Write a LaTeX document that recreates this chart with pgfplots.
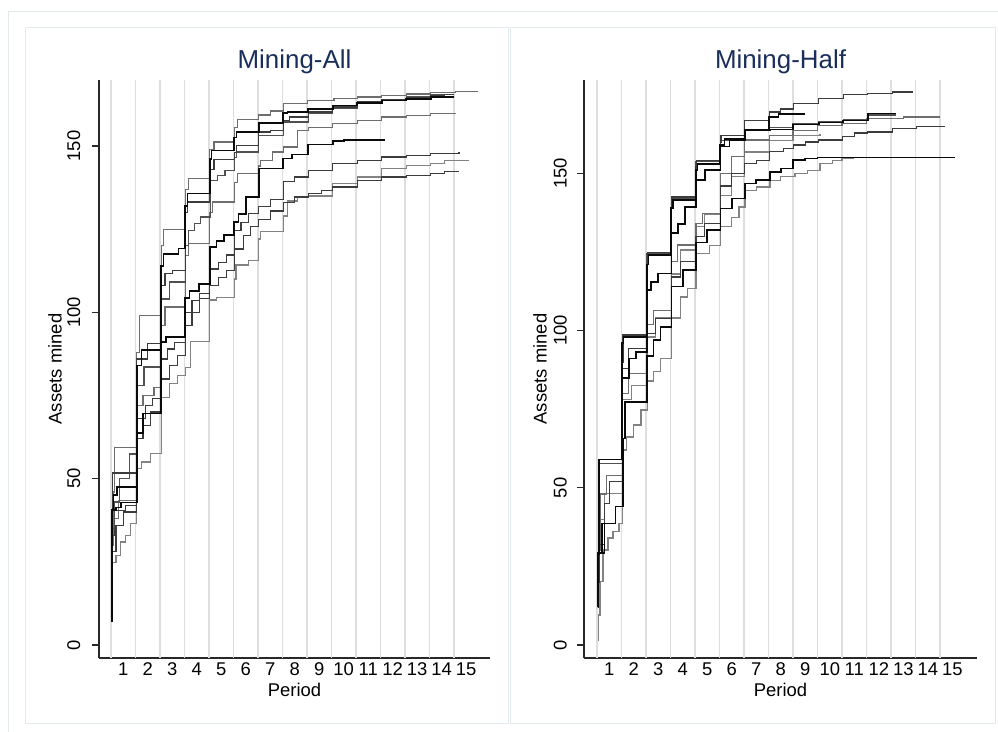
\documentclass[border=0pt]{standalone}
\usepackage{fontspec}
\setmainfont{Liberation Sans}
\usepackage{pgfplots}
\pgfplotsset{compat=1.18}
\definecolor{gridc}{RGB}{222,222,222}
\definecolor{framec}{RGB}{226,234,236}
\definecolor{titlec}{RGB}{26,46,90}
\definecolor{cK}{RGB}{10,10,10}
\definecolor{cD}{RGB}{60,60,60}
\definecolor{cM}{RGB}{80,80,80}
\definecolor{cG}{RGB}{110,110,110}
\definecolor{cL}{RGB}{130,130,130}
\definecolor{axc}{RGB}{40,40,40}
\pgfplotsset{
 every axis title shift=0pt,
 panel/.style={
  scale only axis, height=578bp,
  axis x line=bottom, axis y line=left,
  axis line style={-, draw=axc, line width=1.2bp},
  xtick={0.5,1.5,2.5,3.5,4.5,5.5,6.5,7.5,8.5,9.5,10.5,11.5,12.5,13.5,14.5},
  xticklabels={1,2,3,4,5,6,7,8,9,10,11,12,13,14,15},
  xtick style={draw=none}, xtick align=inside,
  xticklabel style={anchor=base, yshift=-17.3bp, font=\fontsize{18.5}{20}\selectfont},
  extra x ticks={0,1,2,3,4,5,6,7,8,9,10,11,12,13,14},
  extra x tick labels={},
  extra x tick style={grid=major, major grid style={draw=gridc, line width=1.3bp}, tick style={draw=none}},
  ytick={0,50,100,150}, yticklabels={0,50,100,150},
  ytick align=outside, major tick length=7bp,
  ytick style={draw=axc, line width=1.2bp},
  xlabel={Period}, ylabel={Assets mined},
  xlabel style={at={(axis description cs:0.5,0)}, anchor=base, yshift=-38bp, font=\fontsize{18.5}{20}\selectfont},
  ylabel style={at={(axis description cs:0,0.5)}, anchor=base, yshift=37.3bp, font=\fontsize{18.5}{20}\selectfont},
  title style={at={(axis description cs:0.5,1)}, anchor=base, yshift=11.7bp, font=\fontsize{26}{30}\selectfont, color=titlec},
  every axis plot/.append style={const plot, mark=none, line width=1.3bp},
 },
 kline/.style={draw=cK, line width=1.6bp},
 dline/.style={draw=cD},
 mline/.style={draw=cM},
 gline/.style={draw=cG},
 lline/.style={draw=cL},
}
\begin{document}
\begin{tikzpicture}
\useasboundingbox (0,0) rectangle (998bp,732bp);
\draw[framec, line width=1bp] (8.3bp,0) -- (8.3bp,720.3bp) -- (998bp,720.3bp);
\draw[framec, line width=1bp] (25bp,8bp) rectangle (508bp,704.3bp);
\draw[framec, line width=1bp] (510bp,8bp) rectangle (995.7bp,704.3bp);

% ---------------- Mining-All ----------------
\begin{axis}[panel, at={(99bp,74bp)}, anchor=south west, width=391bp,
  xmin=-0.49, xmax=15.47, ymin=-3.91, ymax=169.84, title={Mining-All},
  yticklabel style={rotate=90, anchor=base, yshift=11.9bp, font=\fontsize{18.5}{20}\selectfont}]
% L8 light gray
\addplot[lline] coordinates {(0.05,24.7) (0.2,27) (0.4,31) (0.6,33) (0.8,36.5) (1.05,53) (1.25,55) (1.6,57.6) (2.05,74.3) (2.4,78.6) (2.7,81) (3.03,83.5) (3.25,91.2) (4.03,103.7) (4.3,104.5) (5.03,110) (5.1,114.2) (5.6,115.6) (6.03,122) (6.1,124.2) (7.03,129) (7.2,133.5) (7.6,134.7) (8.05,135) (9.05,138.7) (10.05,140.7) (11.05,143.2) (12.05,144.2) (13.05,144.7) (13.6,145.6) (14.6,145.6)};
% L5 gray
\addplot[gline] coordinates {(0.05,38) (0.3,43.5) (1.05,72) (1.3,75.1) (1.75,77.5) (2.05,96) (2.2,101.6) (3.03,117) (3.15,120.6) (4.03,130) (4.15,133.2) (5.03,139) (5.15,141.7) (6.03,144) (6.1,145.7) (6.6,148.2) (7.05,149.7) (7.6,154.7) (8.05,155.5) (9.05,156.7) (10.05,157.7) (11.05,158.7) (12.05,159.2) (13.05,159.7) (14.1,159.7)};
% L1 gray top
\addplot[gline] coordinates {(0.04,30) (0.08,46) (0.15,59.3) (1.05,88) (1.15,99.1) (2.05,120) (2.15,124.9) (3.03,137) (3.15,140.2) (4.03,149) (4.2,151.2) (5.03,155.5) (5.15,157.9) (6.03,159.3) (6.5,160.5) (7.03,162.7) (8.03,163.7) (9.1,164.2) (10.05,164.7) (11.05,165.2) (12.05,165.6) (13.05,166) (14.05,166.3) (15.0,166.3)};
% L9 dark
\addplot[dline] coordinates {(0.04,28) (0.2,36) (0.5,40) (1.05,62) (1.3,66) (1.6,70) (2.05,80) (2.4,84) (2.7,87) (3.03,96) (3.3,100) (3.6,104.1) (4.03,108) (4.4,110.5) (4.7,112.5) (5.03,119) (5.4,123) (5.7,125.7) (6.03,128) (6.5,130.5) (7.03,133) (7.5,134.7) (8.05,135.7) (8.6,136.7) (9.05,137.7) (10.05,139.7) (11.05,140.7) (12.05,141.2) (13.05,141.7) (13.6,142.4) (14.2,142.4)};
% L7 dark
\addplot[dline] coordinates {(0.04,33) (0.15,40.5) (0.6,42) (1.05,68) (1.4,72) (1.7,74) (2.05,86) (2.3,89) (2.6,91) (3.03,100) (3.3,103.5) (3.6,105.6) (4.03,113) (4.4,115) (4.7,117.2) (5.03,124.7) (5.3,127) (5.6,129.7) (6.03,131.8) (6.5,134) (7.03,139.3) (7.5,140.7) (8.05,142.7) (9.05,144.7) (10.05,145.7) (11.05,146.7) (12.05,147.2) (13.05,147.7) (14.2,148.2)};
% L4 mid dark
\addplot[mline] coordinates {(0.05,35) (0.15,43) (0.35,50) (0.75,57.4) (1.05,78) (1.35,83.6) (2.05,104) (2.4,109.1) (3.03,120) (3.15,124.7) (3.4,126.7) (3.65,128.7) (4.05,139.7) (4.35,141.2) (4.65,142.7) (5.03,146.5) (5.12,148.2) (6.03,153.2) (7.03,157.2) (8.05,159.7) (9.05,161.2) (10.05,162.7) (11.05,163.7) (12.05,164.7) (13.05,165.5) (14.0,165.5)};
% L3 dark
\addplot[dline] coordinates {(0.03,40) (0.05,51.7) (1.05,86) (1.5,90.6) (2.05,108) (2.2,111.6) (2.5,112.6) (3.03,130) (3.12,133.2) (4.03,143) (4.2,146) (5.03,148) (5.12,150.2) (6.03,154.2) (6.5,154.7) (7.03,157.7) (7.3,158.7) (8.05,160.2) (9.05,161.7) (10.05,163.2) (11.05,163.9) (12.05,164.5) (13.05,165.2) (13.6,165.5) (14.0,165.5)};
% L6 black
\addplot[kline] coordinates {(0.0,7.2) (0.03,40.5) (0.2,41.3) (0.4,42.8) (1.05,63.8) (1.3,69.6) (2.05,91) (2.25,92.5) (3.03,104.3) (3.2,106.5) (3.6,108.6) (4.03,119.7) (4.3,121.5) (4.6,123.2) (5.03,127.2) (5.2,129.5) (5.5,134.7) (6.03,143.2) (7.03,146.2) (7.4,147.5) (8.05,150.5) (9.05,151.5) (9.5,151.8) (11.2,151.8)};
% L2 black
\addplot[kline] coordinates {(0.04,41) (0.1,45) (0.25,47.5) (1.05,84) (1.25,88.6) (2.05,114) (2.15,117.6) (2.75,119.2) (3.03,132) (3.12,135.7) (4.03,146) (4.1,148.7) (5.03,152.5) (5.12,154.2) (6.03,156.9) (7.03,159.9) (7.2,160.3) (8.05,161.2) (9.05,162.2) (10.05,163) (11.05,163.7) (12.05,164.2) (13.05,164.7) (14.0,164.7)};
\end{axis}

% ---------------- Mining-Half ----------------
\begin{axis}[panel, at={(584bp,74bp)}, anchor=south west, width=393bp,
  xmin=-0.53, xmax=15.51, ymin=-4.13, ymax=179.7, title={Mining-Half},
  yticklabel style={rotate=90, anchor=base, yshift=10.3bp, font=\fontsize{18.5}{20}\selectfont}]
% R8 light gray
\addplot[lline] coordinates {(0.05,1.6) (0.07,9.5) (0.12,20.1) (0.25,30.2) (0.45,34) (0.65,36) (0.9,38.7) (1.05,62) (1.2,66.2) (1.5,70) (1.8,74.7) (2.05,84) (2.3,87) (2.6,91.1) (3.04,104) (3.4,110.7) (3.7,113.4) (4.04,124.5) (4.6,127) (5.04,133) (5.5,136) (5.8,139.3) (6.04,144.6) (6.5,145.7) (7.06,147.8) (7.5,148.9) (8.08,150) (8.6,151) (9.1,153.1) (9.6,154.2) (10.0,154.8) (10.5,154.8)};
% R6 light gray
\addplot[lline] coordinates {(0.04,22) (0.1,40) (0.3,48.2) (1.04,78) (1.4,82.6) (2.04,98) (2.4,104) (3.04,118) (3.4,125.6) (4.04,133) (4.4,137) (5.04,143) (5.5,149) (6.03,156.8) (7.05,160.4) (8.0,162.1) (9.1,162.4)};
% R4 gray
\addplot[gline] coordinates {(0.05,30) (0.15,48) (0.4,54) (1.04,80) (1.3,86.4) (2.04,102) (2.3,106.5) (3.04,122) (3.3,127.2) (4.04,134) (4.3,137.2) (5.04,150) (5.5,155.3) (6.03,160.6) (7.05,162) (8.0,163.7) (9.0,165.3) (10.0,165.8) (11.0,167.4) (12.5,167.9) (14.0,167.9)};
% R5 dark
\addplot[dline] coordinates {(0.04,20) (0.1,32) (0.3,45) (0.5,51.9) (1.04,88) (1.3,94.3) (2.04,99) (2.4,103.9) (3.04,117) (3.4,122) (4.04,130) (4.4,134) (5.04,146) (5.5,150) (6.03,153.1) (6.5,154.2) (7.05,157) (7.6,158) (8.03,159) (8.5,160) (9.03,160.6) (10.03,161.7) (10.5,162.8) (11.05,163.2) (12.05,164.2) (13.05,164.8) (14.2,164.8)};
% R9 dark
\addplot[mline] coordinates {(0.03,25) (0.07,57.8) (1.04,98.5) (2.04,124.5) (3.04,142) (4.04,153.8) (5.04,160.5) (6.03,163.8) (7.05,164.5) (8.0,165.7) (9.05,166.4) (10.05,167) (11.05,168.6) (12.2,168.6)};
% R1 dark top
\addplot[dline] coordinates {(0.03,30) (0.06,59) (1.03,90) (1.06,98.6) (2.03,120) (2.06,124.8) (3.03,140) (3.06,142.5) (4.03,152) (4.06,154.2) (5.03,160) (5.06,162.1) (6.03,166.9) (7.05,169.5) (7.5,170.5) (8.03,172.2) (9.03,173.8) (10.05,175.1) (11.05,175.5) (12.05,175.9) (12.9,175.9)};
% R7 black
\addplot[kline] coordinates {(0.0,14.9) (0.04,29.2) (0.2,38.7) (0.75,44) (1.05,65.7) (1.15,77.3) (2.04,92) (2.3,97) (2.6,101.2) (3.04,114) (3.5,119.2) (4.04,128) (4.5,131.9) (5.04,138.8) (5.5,142) (6.03,146.8) (6.5,147.8) (7.05,150.5) (7.5,151.5) (8.0,154.2) (8.5,154.7) (9.0,155) (14.6,155)};
% R3 black
\addplot[kline] coordinates {(0.03,12) (0.05,29.2) (0.3,38.7) (0.75,44) (1.04,85) (1.3,91.1) (1.6,93.2) (2.04,113) (2.2,115.5) (2.5,118.2) (3.04,131) (3.3,133.9) (3.6,139.4) (4.04,147.8) (4.4,151) (5.04,158.5) (5.4,160.5) (6.03,163.6) (7.05,164) (8.0,165.5) (9.05,166.2) (10.05,166.8) (11.05,169) (12.2,169)};
% R2 black
\addplot[kline] coordinates {(0.03,15) (0.05,29) (0.08,59) (1.03,96) (1.08,98) (2.03,121) (2.1,124) (3.03,139) (3.1,141.5) (4.03,151) (4.1,153) (5.03,159) (5.2,161) (6.03,164) (7.03,167.9) (7.4,168.8) (8.5,168.8)};
\end{axis}
\end{tikzpicture}
\end{document}
